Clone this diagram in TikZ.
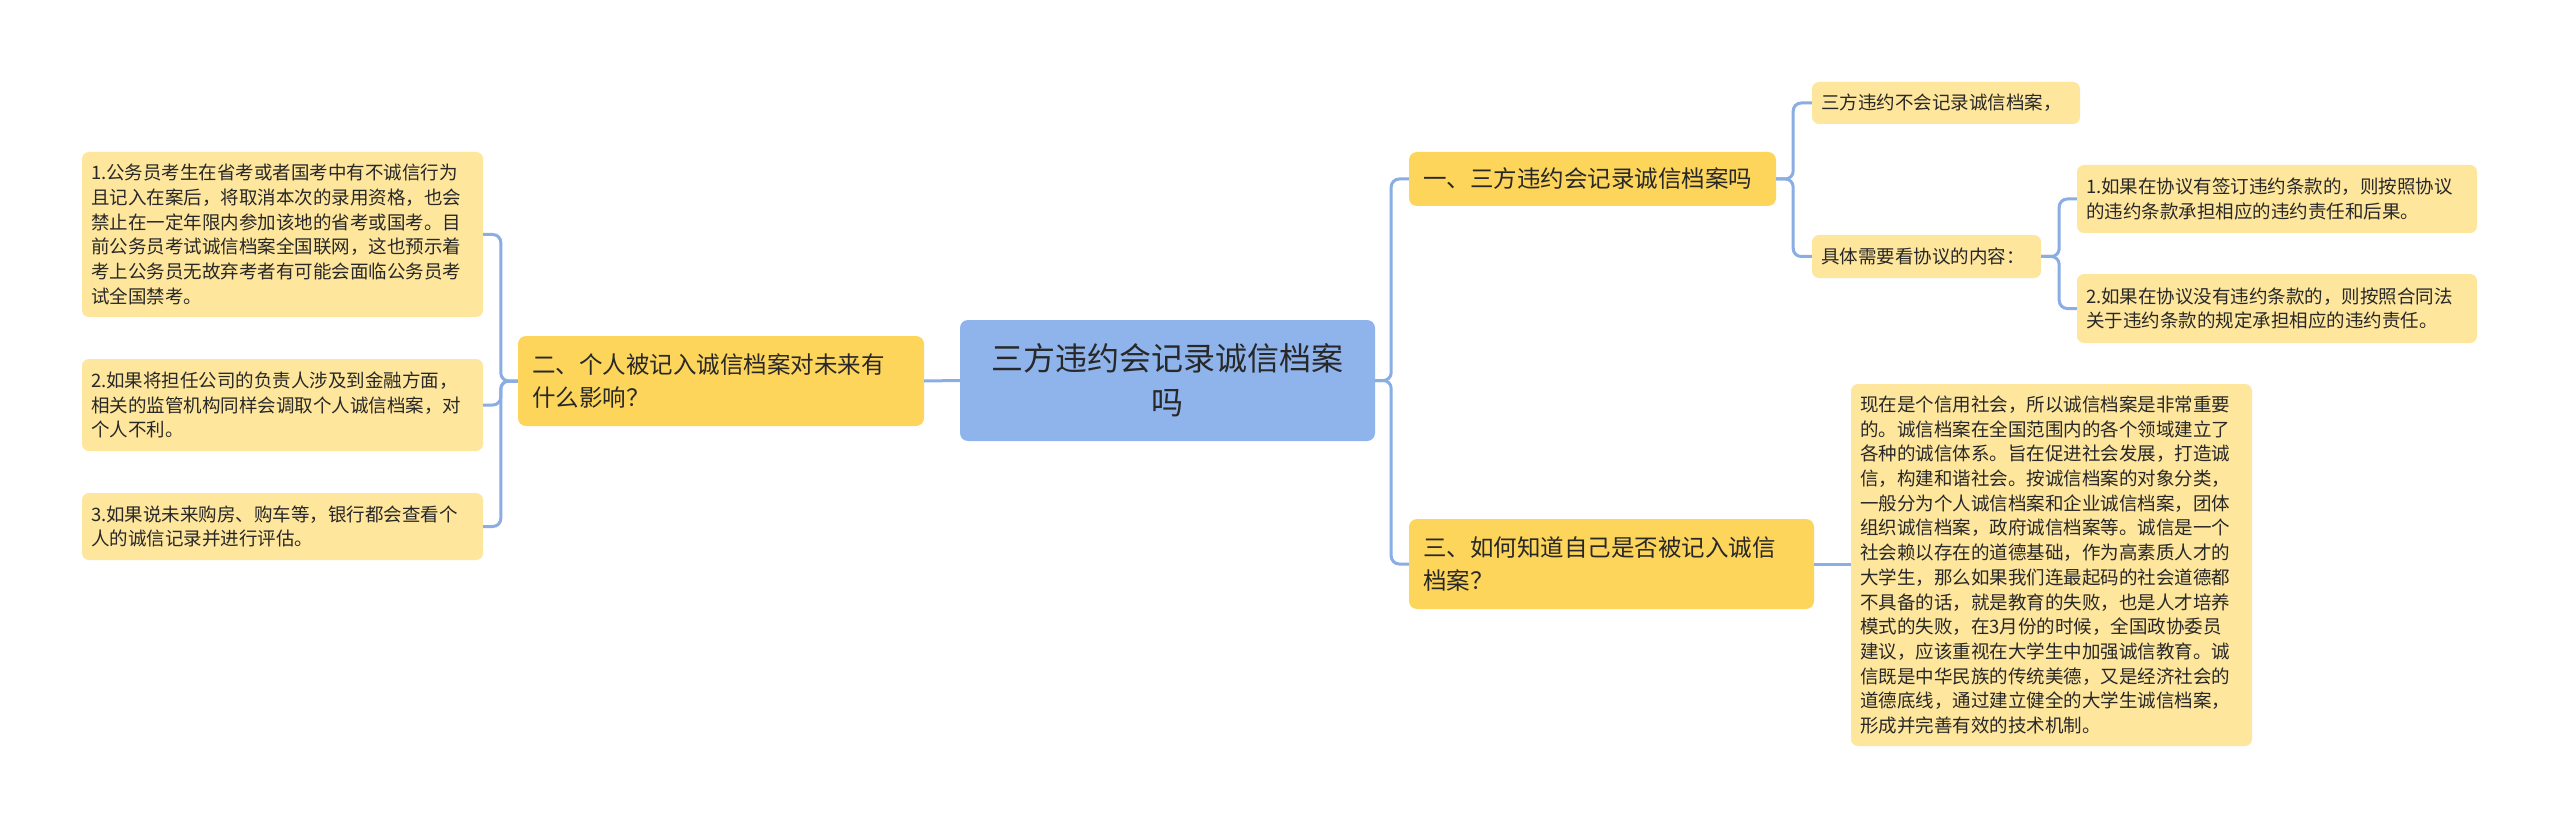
\documentclass[tikz,border=0pt]{standalone}
\usepackage{fontspec}
\setmainfont{Noto Sans CJK SC}
\usetikzlibrary{positioning,calc}
\definecolor{inkText}{RGB}{40, 40, 40}
\definecolor{mapBlue}{RGB}{143, 179, 235}
\definecolor{mapGold}{RGB}{253, 213, 90}
\definecolor{mapCream}{RGB}{254, 230, 157}
\definecolor{mapLine}{RGB}{138, 173, 227}

\tikzset{
  rootbox/.style={fill=mapBlue, rounded corners=8pt, align=center, text=inkText,
    minimum width=415pt, minimum height=121pt, font=\fontsize{32pt}{44pt}\selectfont},
  topicbox/.style={fill=mapGold, rounded corners=8pt, align=left, text=inkText,
    inner xsep=14pt, font=\fontsize{23.5pt}{33pt}\selectfont},
  leafbox/.style={fill=mapCream, rounded corners=7pt, align=left, text=inkText,
    inner xsep=9pt, font=\fontsize{18.5pt}{24.7pt}\selectfont},
  link/.style={draw=mapLine, line width=3pt, rounded corners=8pt},
}

\begin{document}
\begin{tikzpicture}[x=1pt, y=-1pt]
  \useasboundingbox[fill=white] (0,0) rectangle (2560,829);

  % centre
  \node[rootbox] (root) at (1167.5,380.5) {三方违约会记录诚信档案\\吗};

  % left side
  \node[topicbox, text width=378pt, minimum height=90pt] (b2) at (721,381)
    {二、个人被记入诚信档案对未来有\\什么影响？};
  \node[leafbox, text width=383pt, minimum height=165pt] (l1) at (282.5,234.5)
    {1.公务员考生在省考或者国考中有不诚信行为\\且记入在案后，将取消本次的录用资格，也会\\禁止在一定年限内参加该地的省考或国考。目\\前公务员考试诚信档案全国联网，这也预示着\\考上公务员无故弃考者有可能会面临公务员考\\试全国禁考。};
  \node[leafbox, text width=383pt, minimum height=92pt] (l2) at (282.5,405)
    {2.如果将担任公司的负责人涉及到金融方面，\\相关的监管机构同样会调取个人诚信档案，对\\个人不利。};
  \node[leafbox, text width=383pt, minimum height=67pt] (l3) at (282.5,526.5)
    {3.如果说未来购房、购车等，银行都会查看个\\人的诚信记录并进行评估。};

  % right side
  \node[topicbox, text width=339pt, minimum height=54pt] (b1) at (1592.5,179)
    {一、三方违约会记录诚信档案吗};
  \node[leafbox, text width=250pt, minimum height=42pt] (r1a) at (1946,103)
    {三方违约不会记录诚信档案，};
  \node[leafbox, text width=211pt, minimum height=43pt] (r1b) at (1926.5,256.5)
    {具体需要看协议的内容：};
  \node[leafbox, text width=382pt, minimum height=68pt] (r1b1) at (2277,199)
    {1.如果在协议有签订违约条款的，则按照协议\\的违约条款承担相应的违约责任和后果。};
  \node[leafbox, text width=382pt, minimum height=69pt] (r1b2) at (2277,308.5)
    {2.如果在协议没有违约条款的，则按照合同法\\关于违约条款的规定承担相应的违约责任。};

  \node[topicbox, text width=377pt, minimum height=90pt] (b3) at (1611.5,564)
    {三、如何知道自己是否被记入诚信\\档案？};
  \node[leafbox, text width=383pt, minimum height=362pt] (r3) at (2051.5,565)
    {现在是个信用社会，所以诚信档案是非常重要\\的。诚信档案在全国范围内的各个领域建立了\\各种的诚信体系。旨在促进社会发展，打造诚\\信，构建和谐社会。按诚信档案的对象分类，\\一般分为个人诚信档案和企业诚信档案，团体\\组织诚信档案，政府诚信档案等。诚信是一个\\社会赖以存在的道德基础，作为高素质人才的\\大学生，那么如果我们连最起码的社会道德都\\不具备的话，就是教育的失败，也是人才培养\\模式的失败，在3月份的时候，全国政协委员\\建议，应该重视在大学生中加强诚信教育。诚\\信既是中华民族的传统美德，又是经济社会的\\道德底线，通过建立健全的大学生诚信档案，\\形成并完善有效的技术机制。};

  % connectors
  \draw[link] (root.west) -- (b2.east);
  \draw[link] (root.east) -- ++(16,0) |- (b1.west);
  \draw[link] (root.east) -- ++(16,0) |- (b3.west);
  \foreach \leaf in {l1,l2,l3}
    \draw[link] (b2.west) -- ++(-17,0) |- (\leaf.east);
  \draw[link] (b1.east) -- ++(17,0) |- (r1a.west);
  \draw[link] (b1.east) -- ++(17,0) |- (r1b.west);
  \draw[link] (r1b.east) -- ++(18,0) |- (r1b1.west);
  \draw[link] (r1b.east) -- ++(18,0) |- (r1b2.west);
  \draw[link] (b3.east) -- (b3.east -| r3.west);
\end{tikzpicture}
\end{document}
